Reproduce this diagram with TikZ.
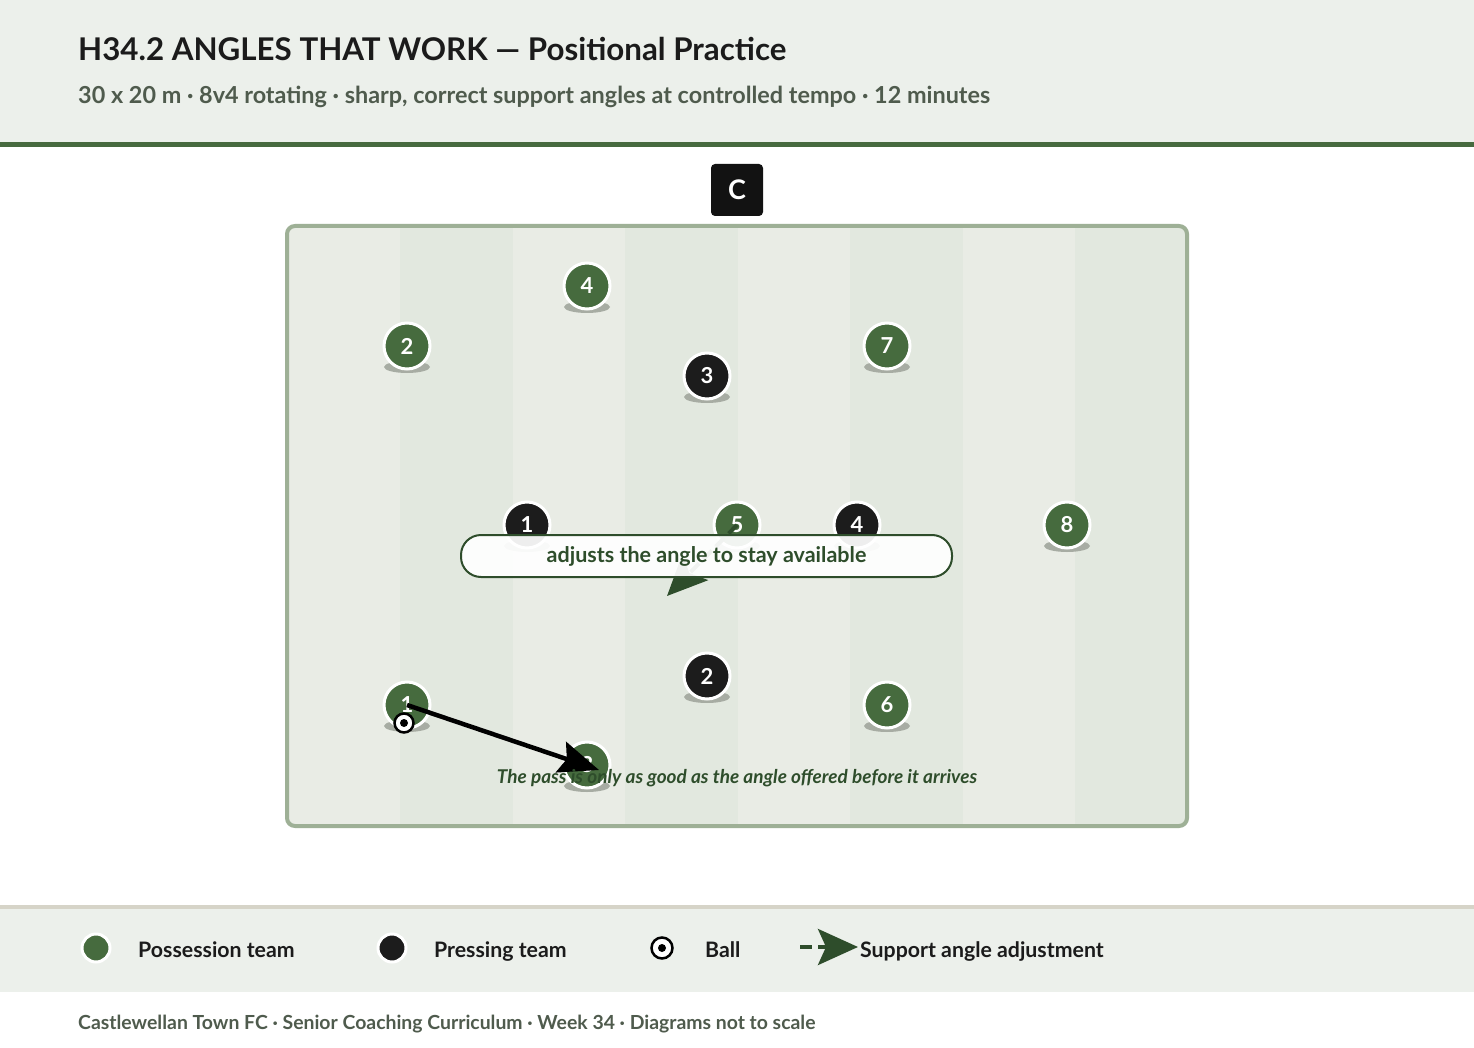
\documentclass[tikz,border=0pt]{standalone}
\usepackage{fontspec}
\setmainfont{Lato}
\usetikzlibrary{shapes,arrows.meta}
\definecolor{headbg}{HTML}{ECF0EB}
\definecolor{bandgreen}{HTML}{476A3F}
\definecolor{titleblack}{HTML}{1B1B1B}
\definecolor{subgrey}{HTML}{4F5B4D}
\definecolor{pitchline}{HTML}{9EB096}
\definecolor{stripelight}{HTML}{E9ECE5}
\definecolor{stripedark}{HTML}{E2E8DF}
\definecolor{teamgreen}{HTML}{466B3E}
\definecolor{teamblack}{HTML}{1C1C1C}
\definecolor{shadowc}{HTML}{A7ACA3}
\definecolor{calloutgreen}{HTML}{2E4D2B}
\definecolor{legendline}{HTML}{D6D4C8}
\tikzstyle{possession} = [circle, fill=teamgreen, draw=white, line width=3pt, minimum size=46pt, inner sep=0pt, text=white, font=\bfseries\fontsize{22}{22}\selectfont]
\tikzstyle{pressing} = [possession, fill=teamblack]
\tikzstyle{ball} = [circle, fill=white, draw=black, line width=2.5pt, minimum size=19pt, inner sep=0pt, path picture={\fill[black] (path picture bounding box.center) circle (4pt);}]
\tikzstyle{passarrow} = [-{Stealth[length=40pt,width=32pt,inset=6pt]}, line width=4.5pt, black]
\tikzstyle{supportarrow} = [-{Stealth[length=40pt,width=36pt,inset=8pt]}, line width=4pt, calloutgreen, dash pattern=on 12pt off 6pt]
\tikzstyle{callout} = [draw=calloutgreen, line width=2pt, fill=white, fill opacity=0.93, text opacity=1, rounded corners=20pt, minimum width=491pt, minimum height=42pt, text=calloutgreen, font=\bfseries\fontsize{21.5}{24}\selectfont]
\tikzstyle{legendtext} = [anchor=west, inner sep=0pt, text height=15pt, text depth=4pt, text=titleblack, font=\bfseries\fontsize{21.3}{24}\selectfont]

\begin{document}
\begin{tikzpicture}[x=1pt, y=-1pt]
		\useasboundingbox (0,0) rectangle (1474,1048);
		\fill[white] (0,0) rectangle (1474,1048);

		% header
		\fill[headbg] (0,0) rectangle (1474,142);
		\fill[bandgreen] (0,142) rectangle (1474,147);
		\node [anchor=west, inner sep=0pt, text=titleblack, font=\bfseries\fontsize{31.3}{36}\selectfont] (title) at (78,49) {H34.2 ANGLES THAT WORK --- Positional Practice};
		\node [anchor=west, inner sep=0pt, text=subgrey, font=\bfseries\fontsize{23.4}{26}\selectfont] (subtitle) at (78,97) {30 x 20 m · 8v4 rotating · sharp, correct support angles at controlled tempo · 12 minutes};
		\node [fill=black!93, rounded corners=4pt, minimum size=52pt, text=white, font=\bfseries\fontsize{27}{27}\selectfont] (grid) at (737,190) {C};

		% pitch
		\begin{scope}
			\clip [rounded corners=8pt] (287,226) rectangle (1187,826);
			\fill[stripelight] (287,226) rectangle (1187,826);
			\foreach \xa in {400,625,850,1075}
				\fill[stripedark] (\xa,226) rectangle (\xa+112.5,826);
		\end{scope}
		\draw [pitchline, line width=4pt, rounded corners=8pt] (287,226) rectangle (1187,826);

		\foreach \px/\py in {587/286, 407/346, 887/346, 737/525, 1067/525, 407/705, 887/705, 587/765, 707/376, 527/525, 857/525, 707/676}
			\fill[shadowc] (\px,\py+21) ellipse [x radius=23, y radius=6];

		\node [possession] (g4) at (587,286) {4};
		\node [possession] (g2) at (407,346) {2};
		\node [possession] (g7) at (887,346) {7};
		\node [possession] (g5) at (737,525) {5};
		\node [possession] (g8) at (1067,525) {8};
		\node [possession] (g1) at (407,705) {1};
		\node [possession] (g6) at (887,705) {6};
		\node [possession] (g3) at (587,765) {3};

		\node [pressing] (b3) at (707,376) {3};
		\node [pressing] (b1) at (527,525) {1};
		\node [pressing] (b4) at (857,525) {4};
		\node [pressing] (b2) at (707,676) {2};

		\node [ball] (ball) at (404,723) {};

		\coordinate (supend) at (667,596);
		\draw [supportarrow] (g5.center) -- (supend);
		\node [callout] (note) at (706.5,556) {adjusts the angle to stay available};

		\coordinate (passend) at (599,770);
		\draw [passarrow] (g1.center) -- (passend);
		\node [inner sep=0pt, text=calloutgreen, font=\bfseries\itshape\fontsize{19}{22}\selectfont] (moral) at (737,778) {The pass is only as good as the angle offered before it arrives};

		% legend
		\fill[legendline] (0,905) rectangle (1474,909);
		\fill[headbg] (0,909) rectangle (1474,992);
		\node [possession, minimum size=28pt] (lgpos) at (96,948) {};
		\node [legendtext, node distance=42pt, right of=lgpos, anchor=west, yshift=-3.5pt] (lgpostxt) {Possession team};
		\node [pressing, minimum size=28pt] (lgpress) at (392,948) {};
		\node [legendtext, node distance=42pt, right of=lgpress, anchor=west, yshift=-3.5pt] (lgpresstxt) {Pressing team};
		\node [ball, minimum size=21pt] (lgball) at (662,948) {};
		\node [legendtext, node distance=43pt, right of=lgball, anchor=west, yshift=-3.5pt] (lgballtxt) {Ball};
		\coordinate (lgsupa) at (800,947);
		\coordinate (lgsupb) at (858,947);
		\draw [supportarrow] (lgsupa) -- (lgsupb);
		\node [legendtext] (lgsuptxt) at (860,951.5) {Support angle adjustment};

		% footer
		\node [anchor=west, inner sep=0pt, text=subgrey, font=\bfseries\fontsize{19.4}{22}\selectfont] (footer) at (78,1024) {Castlewellan Town FC · Senior Coaching Curriculum · Week 34 · Diagrams not to scale};
\end{tikzpicture}
\end{document}
